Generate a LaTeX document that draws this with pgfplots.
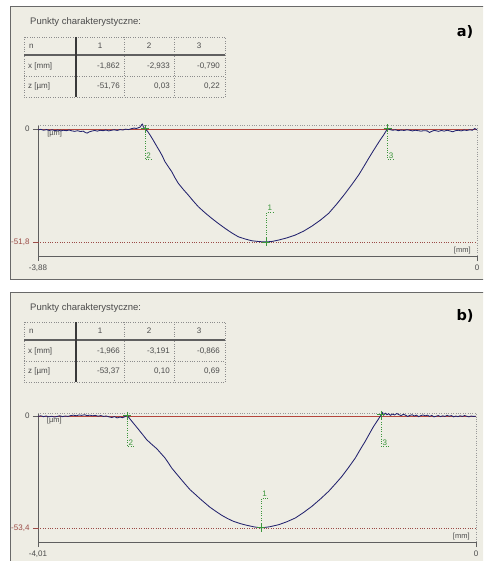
\documentclass[border=0pt]{standalone}
\usepackage{pgfplots}
\pgfplotsset{compat=1.18}
\usepackage{fontspec}
\setmainfont{Liberation Sans}
\newfontfamily\labfont{DejaVu Sans}
\definecolor{panelbg}{RGB}{238,237,228}
\definecolor{framec}{RGB}{105,105,105}
\definecolor{profile}{RGB}{35,35,110}
\definecolor{zeroline}{RGB}{180,70,60}
\definecolor{minline}{RGB}{155,75,70}
\definecolor{mk}{RGB}{60,150,60}
\definecolor{txt}{RGB}{75,75,75}
\definecolor{axc}{RGB}{95,95,95}

\newcommand{\charTable}[7]{%
 \begin{scope}[yshift=#7]
  \node[anchor=base west, font=\fontsize{9.5}{11}\selectfont, text=txt, inner sep=0] at (30pt,-25pt) {Punkty charakterystyczne:};
  \draw[dotted, gray!90] (24pt,-37pt) rectangle (225pt,-97pt);
  \draw[dotted, gray!90] (124pt,-37pt) -- (124pt,-97pt) (174pt,-37pt) -- (174pt,-97pt) (24pt,-76pt) -- (225pt,-76pt);
  \draw[gray!75!black, line width=1.4pt] (24pt,-55pt) -- (225pt,-55pt);
  \draw[gray!45!black, line width=1.1pt] (76pt,-37pt) -- (76pt,-97pt);
  \begin{scope}[every node/.style={font=\fontsize{8}{9}\selectfont, text=txt, inner sep=0}]
   \node[anchor=west] at (29pt,-46pt) {n};
   \node at (100pt,-46pt) {1};
   \node at (149pt,-46pt) {2};
   \node at (199pt,-46pt) {3};
   \node[anchor=west] at (28pt,-66pt) {x [mm]};
   \node[anchor=west] at (28pt,-86pt) {z [µm]};
   \node[anchor=east] at (120pt,-66pt) {#1};
   \node[anchor=east] at (170pt,-66pt) {#2};
   \node[anchor=east] at (220pt,-66pt) {#3};
   \node[anchor=east] at (120pt,-86pt) {#4};
   \node[anchor=east] at (170pt,-86pt) {#5};
   \node[anchor=east] at (220pt,-86pt) {#6};
  \end{scope}
 \end{scope}}

\pgfplotsset{profstyle/.style={
  scale only axis,
  axis x line*=bottom, axis y line*=left,
  axis line style={axc, line width=0.8pt},
  tick align=outside, major tick length=5pt,
  tick style={axc, line width=0.8pt},
  ticklabel style={font=\fontsize{8}{9}\selectfont, text=txt},
  xtick pos=bottom, ytick pos=left,
  clip=false,
}}

\begin{document}
\begin{tikzpicture}
\useasboundingbox (0pt,0pt) rectangle (483pt,-561pt);
\fill[white] (0pt,0pt) rectangle (483pt,-561pt);
\begin{scope}
\clip (0pt,0pt) rectangle (483pt,-561pt);
\filldraw[fill=panelbg, draw=framec, line width=1pt] (10.5pt,-7pt) rectangle (495pt,-279pt);
\filldraw[fill=panelbg, draw=framec, line width=1pt] (10.5pt,-292pt) rectangle (495pt,-575pt);
\end{scope}

\charTable{-1,862}{-2,933}{-0,790}{-51,76}{0,03}{0,22}{0pt}
\charTable{-1,966}{-3,191}{-0,866}{-53,37}{0,10}{0,69}{-285pt}

\node[font=\labfont\bfseries\fontsize{14.5}{16}\selectfont] at (465pt,-32pt) {a)};
\node[font=\labfont\bfseries\fontsize{14.5}{16}\selectfont] at (465pt,-316pt) {b)};

% ---------------- panel a ----------------
\begin{axis}[profstyle,
  at={(38pt,-256pt)}, anchor=south west,
  width=439pt, height=131pt,
  xmin=-3.88, xmax=0, ymin=-58.2, ymax=1.8,
  xtick={-3.88,0}, xticklabels={-3{,}88,0},
  ytick={0}, yticklabels={0},
  extra y ticks={-51.8}, extra y tick labels={-51{,}8},
  extra y tick style={tick style={minline}, ticklabel style={text=minline}},
]
\draw[dotted, gray!80] (-3.88,1.8) -- (0,1.8) -- (0,-58.2);
\draw[minline, dotted] (-3.88,-51.8) -- (0,-51.8);
\draw[zeroline, line width=0.8pt] (-3.88,0) -- (0,0);
\node[anchor=north west, font=\fontsize{7.5}{8}\selectfont, text=txt, inner sep=0] at (-3.80,-0.6) {[µm]};
\node[anchor=south east, font=\fontsize{7.5}{8}\selectfont, text=txt, inner sep=0] at (-0.055,-57.2) {[mm]};
\draw[mk, dotted] (-2.933,0.03) -- (-2.933,-13.9) -- (-2.871,-13.9);
\draw[mk, dotted] (-0.790,0.22) -- (-0.790,-13.9) -- (-0.728,-13.9);
\draw[mk, dotted] (-1.862,-51.76) -- (-1.862,-38.1) -- (-1.800,-38.1);
\node[anchor=south west, text=mk, font=\fontsize{8}{9}\selectfont, inner sep=1pt] at (-2.933,-13.9) {2};
\node[anchor=south west, text=mk, font=\fontsize{8}{9}\selectfont, inner sep=1pt] at (-0.790,-13.9) {3};
\node[anchor=south west, text=mk, font=\fontsize{8}{9}\selectfont, inner sep=1pt] at (-1.862,-38.1) {1};
\addplot[profile, line width=0.85pt] coordinates {
(-3.880,-0.4) (-3.855,-0.2) (-3.830,-0.6) (-3.805,-0.3) (-3.780,-0.7) (-3.755,-0.4) (-3.730,-0.8) (-3.705,-0.5) (-3.680,-0.9) (-3.655,-0.6) (-3.630,-0.8) (-3.605,-0.5) (-3.580,-0.9) (-3.555,-1.1) (-3.530,-0.8) (-3.505,-1.2) (-3.480,-1.0) (-3.460,-1.7) (-3.445,-1.9) (-3.430,-1.4) (-3.405,-1.0) (-3.380,-0.7) (-3.355,-1.0) (-3.330,-0.6) (-3.305,-0.8) (-3.280,-0.5) (-3.255,-0.9) (-3.230,-0.6) (-3.205,-0.4) (-3.180,-0.7) (-3.155,-0.3) (-3.130,-0.5) (-3.105,-0.1) (-3.080,-0.3) (-3.055,0.1) (-3.030,0.4) (-3.010,0.2) (-2.990,0.6) (-2.975,0.9) (-2.965,1.9) (-2.957,2.2) (-2.948,0.9) (-2.940,0.4)
(-2.933,0.03) (-2.910,-1.2) (-2.890,-2.75) (-2.868,-4.6) (-2.846,-6.56) (-2.824,-8.5) (-2.802,-10.41) (-2.780,-12.5) (-2.758,-14.99) (-2.728,-17.3) (-2.698,-19.58) (-2.670,-22.3) (-2.640,-24.90) (-2.596,-27.7) (-2.552,-30.26) (-2.508,-33.0) (-2.463,-35.63) (-2.404,-38.4) (-2.345,-40.94) (-2.286,-43.3) (-2.227,-45.53) (-2.168,-47.6) (-2.110,-49.38) (-2.050,-50.4) (-1.991,-51.21) (-1.925,-51.6) (-1.862,-51.76) (-1.808,-51.5) (-1.753,-50.89) (-1.680,-49.9) (-1.606,-48.60) (-1.532,-46.8) (-1.458,-44.47) (-1.385,-41.8) (-1.311,-38.65) (-1.238,-34.3) (-1.164,-29.48) (-1.105,-25.4) (-1.046,-21.09) (-1.000,-17.2) (-0.957,-13.43) (-0.920,-10.3) (-0.884,-7.34) (-0.855,-5.0) (-0.825,-2.75) (-0.808,-1.3) (-0.790,0.22)
(-0.770,-0.3) (-0.745,-0.6) (-0.720,-0.4) (-0.695,-0.8) (-0.670,-0.5) (-0.645,-0.7) (-0.620,-0.4) (-0.595,-0.6) (-0.570,-0.9) (-0.545,-0.6) (-0.520,-0.8) (-0.495,-1.0) (-0.470,-0.8) (-0.440,-0.9) (-0.420,-1.6) (-0.400,-1.1) (-0.380,-0.7) (-0.365,-0.8) (-0.340,-1.1) (-0.315,-0.7) (-0.290,-1.0) (-0.265,-0.6) (-0.240,-0.9) (-0.215,-1.3) (-0.190,-0.8) (-0.165,-0.6) (-0.140,-0.9) (-0.115,-0.5) (-0.090,-0.7) (-0.065,-0.4) (-0.040,-0.6) (-0.020,0.2) (0.000,-0.4)
};
\addplot[only marks, mark=+, mark size=4pt, mk, line width=0.8pt] coordinates {(-1.862,-51.76) (-2.933,0.03) (-0.790,0.22)};
\end{axis}

% ---------------- panel b ----------------
\begin{axis}[profstyle,
  at={(38pt,-542pt)}, anchor=south west,
  width=438pt, height=129pt,
  xmin=-4.01, xmax=0, ymin=-60.1, ymax=1.43,
  xtick={-4.01,0}, xticklabels={-4{,}01,0},
  ytick={0}, yticklabels={0},
  extra y ticks={-53.4}, extra y tick labels={-53{,}4},
  extra y tick style={tick style={minline}, ticklabel style={text=minline}},
]
\draw[dotted, gray!80] (-4.01,1.43) -- (0,1.43) -- (0,-60.1);
\draw[minline, dotted] (-4.01,-53.4) -- (0,-53.4);
\draw[zeroline, line width=0.8pt] (-4.01,0) -- (0,0);
\node[anchor=north west, font=\fontsize{7.5}{8}\selectfont, text=txt, inner sep=0] at (-3.93,-0.6) {[µm]};
\node[anchor=south east, font=\fontsize{7.5}{8}\selectfont, text=txt, inner sep=0] at (-0.057,-59.1) {[mm]};
\draw[mk, dotted] (-3.191,0.10) -- (-3.191,-14.45) -- (-3.127,-14.45);
\draw[mk, dotted] (-0.866,0.69) -- (-0.866,-14.45) -- (-0.802,-14.45);
\draw[mk, dotted] (-1.966,-53.37) -- (-1.966,-39.1) -- (-1.902,-39.1);
\node[anchor=south west, text=mk, font=\fontsize{8}{9}\selectfont, inner sep=1pt] at (-3.191,-14.45) {2};
\node[anchor=south west, text=mk, font=\fontsize{8}{9}\selectfont, inner sep=1pt] at (-0.866,-14.45) {3};
\node[anchor=south west, text=mk, font=\fontsize{8}{9}\selectfont, inner sep=1pt] at (-1.966,-39.1) {1};
\addplot[profile, line width=0.85pt] coordinates {
(-4.010,-0.2) (-3.985,0.1) (-3.960,-0.3) (-3.935,0.0) (-3.910,-0.4) (-3.885,-0.1) (-3.860,-0.5) (-3.835,-0.2) (-3.810,0.1) (-3.785,-0.3) (-3.760,0.0) (-3.735,-0.2) (-3.710,0.2) (-3.685,0.4) (-3.660,0.1) (-3.635,0.5) (-3.610,0.3) (-3.585,0.6) (-3.560,0.2) (-3.535,0.4) (-3.510,0.1) (-3.485,0.3) (-3.460,-0.1) (-3.435,0.2) (-3.410,-0.2) (-3.385,0.0) (-3.360,-0.4) (-3.335,-0.7) (-3.310,-0.3) (-3.285,-0.9) (-3.260,-0.5) (-3.235,-0.8) (-3.215,-0.3) (-3.200,0.0)
(-3.191,0.10) (-3.165,-1.6) (-3.138,-3.34) (-3.107,-5.3) (-3.076,-7.30) (-3.045,-9.3) (-3.015,-11.30) (-2.969,-13.5) (-2.923,-15.59) (-2.885,-17.8) (-2.847,-20.03) (-2.816,-22.4) (-2.786,-24.80) (-2.748,-27.2) (-2.710,-29.57) (-2.664,-32.4) (-2.618,-35.15) (-2.572,-37.3) (-2.527,-39.44) (-2.481,-41.5) (-2.435,-43.54) (-2.381,-45.5) (-2.328,-47.35) (-2.275,-48.9) (-2.222,-50.21) (-2.160,-51.3) (-2.099,-52.12) (-2.030,-52.9) (-1.966,-53.37) (-1.886,-52.8) (-1.806,-51.84) (-1.730,-50.4) (-1.654,-48.64) (-1.578,-46.0) (-1.502,-43.06) (-1.425,-39.6) (-1.349,-35.91) (-1.288,-32.4) (-1.227,-28.76) (-1.166,-24.5) (-1.105,-20.03) (-1.060,-16.0) (-1.014,-12.06) (-0.975,-8.4) (-0.937,-4.91) (-0.900,-2.0) (-0.866,0.69)
(-0.855,1.6) (-0.845,0.4) (-0.830,1.3) (-0.815,0.6) (-0.800,1.1) (-0.785,0.3) (-0.765,0.9) (-0.745,0.5) (-0.725,1.2) (-0.705,0.6) (-0.685,0.2) (-0.665,0.8) (-0.645,0.4) (-0.625,-0.2) (-0.605,0.3) (-0.585,0.6) (-0.565,0.0) (-0.545,0.4) (-0.525,-0.3) (-0.505,0.2) (-0.485,0.5) (-0.465,0.1) (-0.445,0.4) (-0.425,-0.2) (-0.405,0.3) (-0.385,-0.4) (-0.365,-0.1) (-0.345,0.2) (-0.325,-0.3) (-0.305,0.1) (-0.285,-0.2) (-0.265,0.3) (-0.245,-0.1) (-0.225,0.2) (-0.205,-0.4) (-0.185,0.0) (-0.165,-0.3) (-0.145,0.1) (-0.125,-0.2) (-0.105,0.2) (-0.085,-0.1) (-0.065,-0.4) (-0.045,0.0) (-0.025,-0.2) (0.000,-0.1)
};
\addplot[only marks, mark=+, mark size=4pt, mk, line width=0.8pt] coordinates {(-1.966,-53.37) (-3.191,0.10) (-0.866,0.69)};
\end{axis}
\end{tikzpicture}
\end{document}
